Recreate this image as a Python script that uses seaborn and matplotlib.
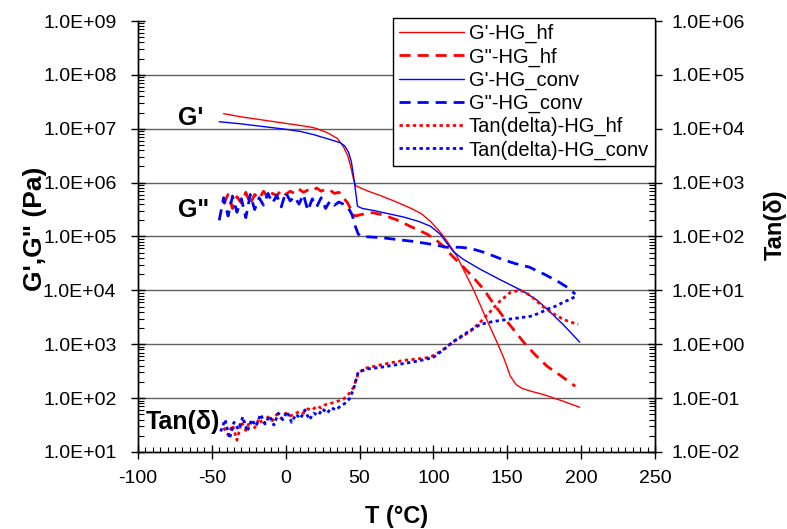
import numpy as np
import seaborn as sns
import matplotlib.pyplot as plt
from matplotlib.ticker import FuncFormatter, MultipleLocator, LogLocator, NullFormatter
from matplotlib.lines import Line2D

sns.set_theme(style="white")
plt.rcParams['font.family'] = ['Liberation Sans', 'DejaVu Sans']
plt.rcParams['axes.unicode_minus'] = False
for k in ["text.color", "axes.labelcolor", "xtick.color", "ytick.color"]:
    plt.rcParams[k] = "black"

# ---- data (log10 values) ----
# G' high-frequency (Pa)
t_g1_hf = [-42, -30, -15, 0, 10, 19, 28, 35, 39, 42, 44, 46, 47.5, 55, 65, 75, 85, 92, 98,
           103, 107, 112, 116, 121, 127, 135, 143, 148, 152, 156, 160, 167, 174, 187, 199]
g1_hf_log = [7.28, 7.22, 7.16, 7.10, 7.06, 7.02, 6.93, 6.82, 6.67, 6.50, 6.30, 6.05, 5.94, 5.85,
             5.75, 5.64, 5.52, 5.42, 5.28, 5.13, 5.00, 4.80, 4.63, 4.35, 4.02, 3.52, 3.04, 2.72,
             2.41, 2.25, 2.18, 2.12, 2.07, 1.95, 1.83]

# G'' high-frequency (Pa)
t_g2_hf = [-42, -39, -36, -33, -30, -27, -24, -21, -18, -15, -12, -9, -6, -3, 0, 3, 6, 9, 12, 15,
           18, 21, 24, 27, 30, 33, 36, 39, 42, 45, 47, 50, 55, 59, 66, 75, 85, 96, 102, 107, 113,
           120, 127, 134, 140, 147, 154, 161, 169, 177, 187, 196]
g2_hf_log = [5.60, 5.78, 5.52, 5.74, 5.62, 5.82, 5.60, 5.78, 5.70, 5.84, 5.72, 5.80, 5.76, 5.86,
             5.78, 5.84, 5.80, 5.88, 5.82, 5.86, 5.84, 5.90, 5.84, 5.88, 5.86, 5.80, 5.82, 5.72,
             5.62, 5.45, 5.38, 5.40, 5.43, 5.44, 5.40, 5.31, 5.18, 5.04, 4.93, 4.81, 4.63, 4.44,
             4.24, 4.02, 3.78, 3.52, 3.28, 3.04, 2.80, 2.59, 2.40, 2.22]

# G' conventional (Pa)
t_g1_conv = [-45, -30, -15, 0, 10, 19, 30, 37, 40, 42.6, 44.5, 46, 47.5, 48.6, 52, 60, 70, 80, 90,
             98, 104.7, 109, 113.5, 120, 131.8, 145, 161, 170, 177, 188, 199]
g1_conv_log = [7.13, 7.09, 7.04, 6.99, 6.95, 6.89, 6.80, 6.74, 6.68, 6.56, 6.38, 6.11, 5.80, 5.56,
               5.52, 5.48, 5.42, 5.36, 5.28, 5.19, 5.04, 4.88, 4.72, 4.58, 4.39, 4.20, 3.98, 3.82,
               3.65, 3.36, 3.04]

# G'' conventional (Pa)
t_g2_conv = [-45, -42, -39, -36, -33, -30, -27, -24, -21, -18, -15, -12, -9, -6, -3, 0, 3, 6, 9, 12,
             15, 18, 21, 24, 27, 30, 33, 36, 39, 42, 45, 47, 49, 51, 64, 86, 100, 109, 118, 125,
             135, 147, 155, 165, 175, 184, 191, 196]
g2_conv_log = [5.30, 5.72, 5.38, 5.75, 5.45, 5.70, 5.35, 5.78, 5.50, 5.72, 5.58, 5.80, 5.62, 5.76,
               5.55, 5.82, 5.66, 5.74, 5.60, 5.78, 5.48, 5.70, 5.55, 5.72, 5.52, 5.66, 5.58, 5.64,
               5.60, 5.55, 5.40, 5.20, 5.05, 5.00, 4.98, 4.91, 4.85, 4.80, 4.80, 4.78, 4.70, 4.57,
               4.50, 4.43, 4.30, 4.17, 4.05, 3.93]

# Tan(delta) high-frequency
t_tan_hf = [-42, -39, -36, -33, -30, -27, -24, -21, -18, -15, -12, -9, -6, -3, 0, 3, 6, 9, 12, 15,
            18, 21, 24, 27, 30, 33, 36, 39, 42, 46, 49, 53, 60, 70, 80, 90, 98, 103, 107, 113, 120,
            125, 132, 138, 145, 152, 158, 162, 168, 174, 181, 188, 193, 198]
tan_hf_log = [-1.55, -1.68, -1.50, -1.78, -1.45, -1.60, -1.42, -1.55, -1.38, -1.50, -1.35, -1.42,
              -1.30, -1.38, -1.28, -1.33, -1.30, -1.25, -1.28, -1.20, -1.22, -1.15, -1.18, -1.12,
              -1.10, -1.08, -1.05, -1.02, -0.95, -0.80, -0.55, -0.45, -0.41, -0.35, -0.30, -0.27,
              -0.24, -0.16, -0.09, 0.04, 0.15, 0.24, 0.42, 0.59, 0.80, 0.96, 1.00, 0.97, 0.85,
              0.70, 0.57, 0.46, 0.41, 0.37]

# Tan(delta) conventional
t_tan_conv = [-44, -41, -38, -35, -32, -29, -26, -23, -20, -17, -14, -11, -8, -5, -2, 1, 4, 7, 10,
              13, 16, 19, 22, 25, 28, 31, 34, 37, 40, 43, 46, 49, 55, 64, 75, 86, 95, 100, 107, 113,
              120, 127, 132, 140, 150, 158, 166, 172, 177, 183, 188, 193, 197]
tan_conv_log = [-1.62, -1.40, -1.75, -1.45, -1.58, -1.35, -1.62, -1.40, -1.52, -1.30, -1.48, -1.33,
                -1.50, -1.28, -1.40, -1.25, -1.45, -1.30, -1.38, -1.22, -1.40, -1.28, -1.32, -1.20,
                -1.28, -1.18, -1.22, -1.15, -1.10, -1.02, -0.83, -0.52, -0.46, -0.43, -0.38, -0.33,
                -0.28, -0.24, -0.10, 0.04, 0.17, 0.29, 0.37, 0.42, 0.46, 0.49, 0.52, 0.58, 0.65,
                0.71, 0.78, 0.84, 0.90]

RED = "#FF0000"
BLUE = "#0000FF"
DASH = (0, (4, 2.5))
DOT = (0, (1.2, 1.2))

fig = plt.figure(figsize=(7.87, 5.29), dpi=100)
ax = fig.add_axes([0.1753, 0.1456, 0.657, 0.8147])
ax2 = ax.twinx()

def draw(axis, t, vlog, color, ls, lw):
    sns.lineplot(x=t, y=10 ** np.array(vlog), ax=axis, color=color, linestyle=ls,
                 linewidth=lw, estimator=None, sort=False)

draw(ax, t_g1_hf, g1_hf_log, RED, "-", 1.0)
draw(ax, t_g2_hf, g2_hf_log, RED, DASH, 2.0)
draw(ax, t_g1_conv, g1_conv_log, BLUE, "-", 1.0)
draw(ax, t_g2_conv, g2_conv_log, BLUE, DASH, 2.0)
draw(ax2, t_tan_hf, tan_hf_log, RED, DOT, 2.0)
draw(ax2, t_tan_conv, tan_conv_log, BLUE, DOT, 2.0)

fmt = FuncFormatter(lambda v, p: f"{v:.1E}")
for a, lo, hi, pad in [(ax, 1e1, 1e9, 10.5), (ax2, 1e-2, 1e6, 7)]:
    a.set_yscale("log")
    a.set_ylim(lo, hi)
    a.set_yticks([10.0 ** k for k in range(int(np.log10(lo)), int(np.log10(hi)) + 1)])
    a.yaxis.set_major_formatter(fmt)
    a.yaxis.set_minor_locator(LogLocator(base=10, subs=np.arange(2, 10), numticks=20))
    a.yaxis.set_minor_formatter(NullFormatter())
    a.tick_params(axis="y", which="major", direction="inout", length=10, width=1,
                  labelsize=14, color="black", pad=pad)
    a.tick_params(axis="y", which="minor", direction="in", length=4, width=0.8, color="black")
    for s in ["left", "right", "bottom"]:
        a.spines[s].set_color("black")
        a.spines[s].set_linewidth(1)
    a.spines["top"].set_visible(False)

ax.set_xlim(-100, 250)
ax.xaxis.set_major_locator(MultipleLocator(50))
ax.xaxis.set_minor_locator(MultipleLocator(5))
ax.tick_params(axis="x", which="major", direction="inout", length=10, width=1,
               labelsize=14, color="black", bottom=True, pad=8)
ax.tick_params(axis="x", which="minor", direction="in", length=3.5, width=0.8,
               color="black", bottom=True)
ax.tick_params(axis="y", which="both", left=True, right=False)
ax2.tick_params(axis="y", which="both", right=True, left=False)

ax.grid(axis="y", which="major", color="#606060", linewidth=1)
for line, loc in zip(ax.yaxis.get_gridlines(), ax.get_yticks()):
    if loc >= 1e9 or loc <= 1e1:
        line.set_visible(False)
ax2.grid(False)

ax.set_xlabel("T (°C)", fontsize=17, fontweight="bold")
ax.set_ylabel("G',G\" (Pa)", fontsize=19, fontweight="bold")
ax2.set_ylabel("Tan(δ)", fontsize=17, fontweight="bold")
ax.yaxis.set_label_coords(-0.175, 0.517)
ax2.yaxis.set_label_coords(1.21, 0.527)
ax.xaxis.set_label_coords(0.5, -0.122)

ax.text(-64, 10 ** 7.2, "G'", fontsize=18, fontweight="bold", ha="center", va="center")
ax.text(-62.4, 10 ** 5.49, "G\"", fontsize=18, fontweight="bold", ha="center", va="center")
ax.text(-69.5, 10 ** 1.56, "Tan(δ)", fontsize=18, fontweight="bold", ha="center", va="center")

handles = [
    Line2D([], [], color=RED, lw=1.0, ls="-"),
    Line2D([], [], color=RED, lw=2.0, ls=DASH),
    Line2D([], [], color=BLUE, lw=1.0, ls="-"),
    Line2D([], [], color=BLUE, lw=2.0, ls=DASH),
    Line2D([], [], color=RED, lw=2.0, ls=DOT),
    Line2D([], [], color=BLUE, lw=2.0, ls=DOT),
]
labels = ["G'-HG_hf", "G\"-HG_hf", "G'-HG_conv", "G\"-HG_conv",
          "Tan(delta)-HG_hf", "Tan(delta)-HG_conv"]
leg = ax2.legend(handles, labels, loc="upper right", bbox_to_anchor=(1.0, 1.007),
                 borderaxespad=0, fontsize=14.5, frameon=True, fancybox=False,
                 handlelength=3.2, handletextpad=0.25, labelspacing=0.2,
                 borderpad=0.3)
leg.get_frame().set_edgecolor("black")
leg.get_frame().set_linewidth(1)
leg.get_frame().set_facecolor("white")
leg.get_frame().set_alpha(1)

fig.savefig("out.png", dpi=100)
